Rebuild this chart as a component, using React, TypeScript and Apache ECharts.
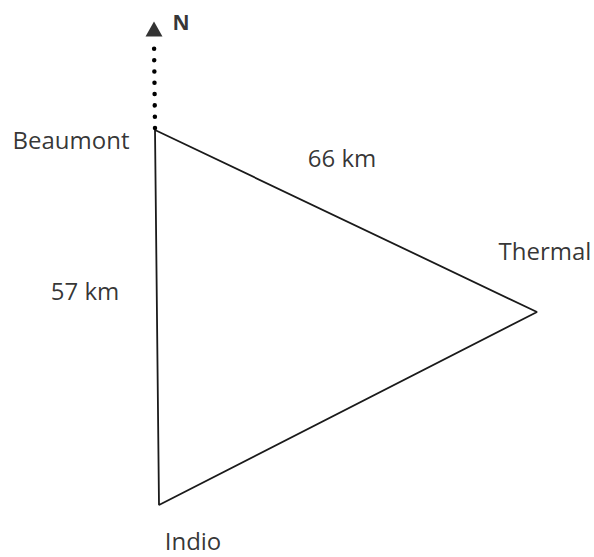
import React, { useEffect, useRef } from "react";
import * as echarts from "echarts";

// Vertex positions (diagram units: x to the right, y downward)
const places = ["Beaumont", "Thermal", "Indio"];
const placeX = [155, 537, 159];
const placeY = [130, 312, 505];

// Label anchor positions for each place name
const placeLabelX = [71, 545, 193];
const placeLabelY = [139, 250, 540];

// Distances written beside the edges
const distanceLabels = ["66 km", "57 km"];
const distanceX = [342, 85];
const distanceY = [157, 290];

// North arrow
const northFrom = [155, 128];
const northTo = [154, 39];
const northTip = [154, 29];
const northLabel = "N";
const northLabelPos = [181, 22];

export default function App() {
  const ref = useRef<HTMLDivElement>(null);
  useEffect(() => {
    if (!ref.current) return;
    const chart = echarts.init(ref.current, null, { renderer: "svg" });
    const tri = [0, 1, 2, 0].map((i) => [placeX[i], placeY[i]]);
    const font = "'Open Sans', 'Noto Sans', sans-serif";
    const textColor = "#000000";
    const labelStyle = {
      show: true,
      position: "inside",
      formatter: (p: any) => p.name,
      fontFamily: font,
      fontSize: 24,
      fontWeight: "normal",
      color: textColor,
      textBorderWidth: 0,
      textBorderColor: "transparent",
    };
    chart.setOption({
      animation: false,
      backgroundColor: "#ffffff",
      grid: { left: 0, right: 0, top: 0, bottom: 0 },
      xAxis: { type: "value", min: 0, max: 594, show: false },
      yAxis: { type: "value", min: 0, max: 557, inverse: true, show: false },
      series: [
        {
          type: "line",
          data: tri,
          symbol: "none",
          lineStyle: { color: "#1a1a1a", width: 1.8 },
          z: 2,
        },
        {
          type: "line",
          data: [northFrom, northTo],
          symbol: "none",
          lineStyle: { color: "#000", width: 4.5, type: [0.01, 11.3], cap: "round" },
          z: 3,
        },
        {
          type: "scatter",
          data: [northTip],
          symbol: "triangle",
          symbolSize: [17, 15],
          itemStyle: { color: "#000" },
          z: 4,
        },
        {
          type: "scatter",
          symbolSize: 0,
          itemStyle: { color: "#000" },
          data: places.map((p, i) => ({ value: [placeLabelX[i], placeLabelY[i]], name: p })),
          label: labelStyle,
        },
        {
          type: "scatter",
          symbolSize: 0,
          itemStyle: { color: "#000" },
          data: distanceLabels.map((p, i) => ({ value: [distanceX[i], distanceY[i]], name: p })),
          label: labelStyle,
        },
        {
          type: "scatter",
          symbolSize: 0,
          itemStyle: { color: "#000" },
          data: [{ value: northLabelPos, name: northLabel }],
          label: { ...labelStyle, fontSize: 21, fontWeight: "bold" },
        },
      ],
    });
    return () => chart.dispose();
  }, []);
  return (
    <div
      ref={ref}
      style={{ position: "fixed", left: 0, top: 0, width: 594, height: 557, background: "#fff" }}
    />
  );
}
